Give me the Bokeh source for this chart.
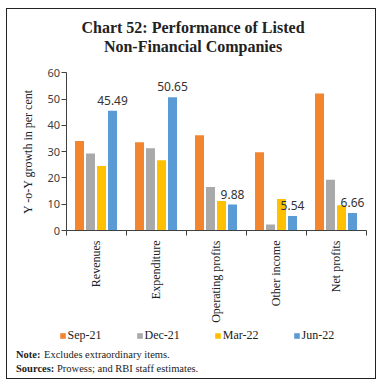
import math
from bokeh.plotting import figure
from bokeh.models import (Range1d, FixedTicker, Legend, LegendItem,
                          ColumnDataSource, Label)
from bokeh.embed import file_html
from bokeh.resources import INLINE
from bokeh.core.properties import value

categories = ["Revenues", "Expenditure", "Operating profits", "Other income", "Net profits"]
series_names = ["Sep-21", "Dec-21", "Mar-22", "Jun-22"]
sep21 = [34.0, 33.6, 36.2, 29.8, 52.1]
dec21 = [29.3, 31.3, 16.5, 2.3, 19.3]
mar22 = [24.5, 26.7, 11.2, 12.0, 9.6]
jun22 = [45.49, 50.65, 9.88, 5.54, 6.66]
colors = ["#F4852F", "#A9A9A9", "#FFC000", "#5B9BD5"]
y_ticks = [0, 10, 20, 30, 40, 50, 60]
title_lines = ["Chart 52: Performance of Listed", "Non-Financial Companies"]
note_parts = [("Note:", "Excludes extraordinary items."),
              ("Sources:", "Prowess; and RBI staff estimates.")]

SERIF = "Liberation Serif"
SANS = "Noto Sans"

W, H = 370, 371
# frame covers the whole canvas; axes are pinned with fixed_location
PX_X = 60.0           # pixels per category
PX_Y = 157.8 / 60.0   # pixels per percentage point
X0, Y0 = 58.5, 221.0  # canvas position of the (0, 0) data point
x_range = Range1d(-X0 / PX_X, (W - X0) / PX_X)
y_range = Range1d(-(H - Y0) / PX_Y, Y0 / PX_Y)

p = figure(width=W, height=H, output_backend="svg", toolbar_location=None,
           x_range=x_range, y_range=y_range,
           min_border_left=0, min_border_right=0, min_border_top=0,
           min_border_bottom=0, background_fill_color="white",
           border_fill_color="white", outline_line_color=None,
           styles={"border": "1.5px solid #222222", "margin-left": "6px",
                   "margin-top": "8px"})
p.grid.visible = False

offsets = [-0.275, -0.092, 0.092, 0.275]
bar_w = 0.15
renderers = []
for vals, off, col in zip([sep21, dec21, mar22, jun22], offsets, colors):
    xs = [i + 0.5 + off for i in range(len(categories))]
    src = ColumnDataSource(dict(x=xs, top=vals))
    r = p.vbar(x="x", top="top", width=bar_w, bottom=0, source=src,
               fill_color=col, line_color=None)
    renderers.append(r)

lab_src = ColumnDataSource(dict(
    x=[i + 0.5 + offsets[3] for i in range(len(categories))],
    y=jun22, t=["%.2f" % v for v in jun22]))
p.text(x="x", y="y", text="t", source=lab_src, text_align="center",
       text_baseline="bottom", y_offset=-6, text_font=value(SANS),
       text_font_size="12px", text_color="#333333")

ya = p.yaxis[0]
ya.fixed_location = 0
ya.bounds = (y_ticks[0], y_ticks[-1])
ya.ticker = FixedTicker(ticks=y_ticks)
ya.axis_line_color = "#404040"
ya.major_tick_line_color = "#404040"
ya.major_tick_out = 5
ya.major_tick_in = 0
ya.minor_tick_line_color = None
ya.major_label_standoff = 1
ya.major_label_text_font = SANS
ya.major_label_text_font_size = "11px"
ya.major_label_text_color = "#404040"
ya.axis_label = "Y -o-Y growth in per cent"
ya.axis_label_text_font = SERIF
ya.axis_label_text_font_style = "normal"
ya.axis_label_text_font_size = "12px"
ya.axis_label_text_color = "#222222"
ya.axis_label_standoff = 10

xa = p.xaxis[0]
centers = [i + 0.5 for i in range(len(categories))]
bounds = [float(i) for i in range(len(categories) + 1)]
xa.fixed_location = 0
xa.bounds = (0, len(categories))
xa.ticker = FixedTicker(ticks=centers, minor_ticks=bounds)
xa.major_label_overrides = {c: name for c, name in zip(centers, categories)}
xa.axis_line_color = "#404040"
xa.major_tick_line_color = None
xa.major_tick_out = 0
xa.major_tick_in = 0
xa.minor_tick_line_color = "#404040"
xa.minor_tick_out = 5
xa.minor_tick_in = 0
xa.major_label_orientation = math.pi / 2
xa.major_label_standoff = 5
xa.major_label_text_font = SERIF
xa.major_label_text_font_size = "12px"
xa.major_label_text_color = "#222222"

items = [LegendItem(label=n, renderers=[r]) for n, r in zip(series_names, renderers)]
legend = Legend(items=items, orientation="horizontal", location=(51.5, 37.5),
                glyph_width=7, glyph_height=7, label_standoff=2, spacing=34,
                padding=0, margin=0, border_line_color=None,
                background_fill_alpha=0, label_text_font=SERIF,
                label_text_font_size="12px", label_text_color="#222222",
                label_height=14)
p.add_layout(legend, "center")

# title (screen units, measured from the frame's bottom-left)
for txt, yy in zip(title_lines, [H - 17.5, H - 36.5]):
    p.add_layout(Label(x=185.5, y=yy, x_units="screen", y_units="screen",
                       text=txt, text_align="center", text_baseline="middle",
                       text_font=SERIF, text_font_style="bold",
                       text_font_size="16px", text_color="#222222"))

# note and source lines
for (head, body), yy, bx in zip(note_parts, [H - 344.5, H - 358.5], [36.5, 49.5]):
    p.add_layout(Label(x=8.5, y=yy, x_units="screen", y_units="screen",
                       text=head, text_align="left", text_baseline="middle",
                       text_font=SERIF, text_font_style="bold",
                       text_font_size="10.5px", text_color="#222222"))
    p.add_layout(Label(x=bx, y=yy, x_units="screen", y_units="screen",
                       text=body, text_align="left", text_baseline="middle",
                       text_font=SERIF, text_font_style="normal",
                       text_font_size="10.5px", text_color="#222222"))

open("out.html", "w").write(file_html(p, INLINE))
